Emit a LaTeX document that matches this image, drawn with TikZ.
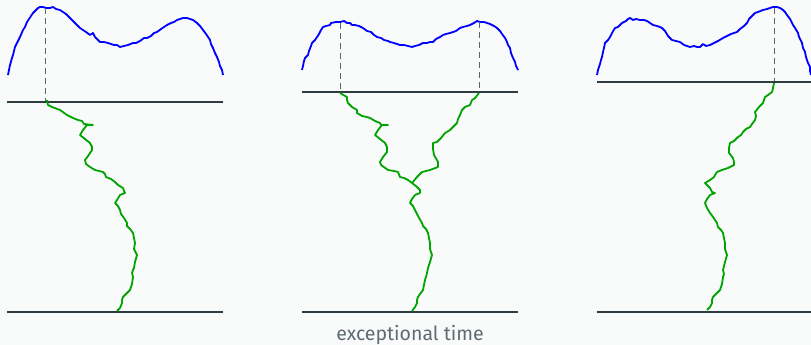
\documentclass[tikz,border=0pt]{standalone}
\usepackage{fontspec}
\setmainfont{Fira Sans}
\definecolor{bg}{HTML}{F9FAFA}
\definecolor{axis}{HTML}{2E3B40}
\definecolor{walk}{HTML}{00A400}
\definecolor{lbl}{HTML}{5E6C72}
\definecolor{guide}{HTML}{5A6569}
\tikzset{
  axisline/.style={draw=axis, line width=2pt},
  density/.style={draw=blue, line width=1.8pt, line join=round},
  path/.style={draw=walk, line width=1.8pt, line join=round},
  guideline/.style={draw=guide, line width=0.9pt, dash pattern=on 6pt off 4pt},
}
\begin{document}
\begin{tikzpicture}[x=1pt,y=-1pt]
\fill[bg] (0,0) rectangle (811,345);
\useasboundingbox (0,0) rectangle (811,345);
% ---------- panel 1 ----------
\draw[density] (8,75) -- (9,70) -- (10,65) -- (12,58) -- (13,55) -- (15,47) -- (17,43) -- (20,37) -- (23,30) -- (25,27) -- (27,22) -- (29,19) -- (31,16) -- (33,13) -- (36,10) -- (38,8) -- (40,7) -- (43,7) -- (46,8) -- (50,8) -- (53,7) -- (56,9) -- (60,10) -- (63,12) -- (66,14) -- (70,18) -- (73,21) -- (77,25) -- (80,28) -- (83,30) -- (86,32) -- (90,35) -- (93,33) -- (95,37) -- (98,40) -- (100,42) -- (104,42) -- (108,43) -- (111,44) -- (114,45) -- (117,45) -- (120,47) -- (124,46) -- (128,45) -- (133,43) -- (136,43) -- (140,41) -- (144,38) -- (147,38) -- (151,36) -- (154,33) -- (157,32) -- (161,29) -- (164,27) -- (167,25) -- (171,23) -- (174,22) -- (177,20) -- (180,19) -- (183,18) -- (187,18) -- (190,19) -- (193,20) -- (197,23) -- (200,26) -- (203,30) -- (206,34) -- (208,37) -- (210,40) -- (211,44) -- (213,48) -- (215,53) -- (217,57) -- (219,62) -- (220,66) -- (222,70) -- (223,75);
\draw[guideline] (45,8) -- (45,102);
\draw[axisline] (7,102) -- (223,102);
\draw[axisline] (7,312) -- (223,312);
\draw[path] (47,100) -- (48,105) -- (52,107) -- (60,110) -- (67,115) -- (73,118) -- (78,120) -- (82,121) -- (84,124) -- (93,125) -- (87,125) -- (83,130) -- (80,135) -- (85,139) -- (90,143) -- (92,147) -- (92,150) -- (88,156) -- (85,160) -- (86,164) -- (90,167) -- (95,170) -- (103,172) -- (105,174) -- (106,177) -- (111,179) -- (115,182) -- (118,185) -- (123,188) -- (124,191) -- (125,193) -- (120,195) -- (117,200) -- (115,203) -- (118,206) -- (120,210) -- (121,214) -- (124,218) -- (127,223) -- (127,226) -- (130,229) -- (133,233) -- (134,238) -- (135,243) -- (134,249) -- (137,255) -- (135,262) -- (134,268) -- (133,270) -- (132,273) -- (133,277) -- (132,284) -- (130,290) -- (126,294) -- (123,297) -- (122,300) -- (122,303) -- (120,308) -- (117,311);
% ---------- panel 2 ----------
\draw[density] (302,70) -- (303,66) -- (304,61) -- (305,58) -- (308,55) -- (309,51) -- (311,46) -- (312,43) -- (315,40) -- (317,37) -- (319,34) -- (321,30) -- (323,27) -- (326,26) -- (330,25) -- (331,23) -- (336,22) -- (340,22) -- (344,21) -- (347,23) -- (350,23) -- (352,25) -- (355,25) -- (359,26) -- (363,28) -- (367,31) -- (371,32) -- (374,35) -- (377,37) -- (381,38) -- (384,40) -- (388,41) -- (390,42) -- (394,43) -- (397,44) -- (400,45) -- (404,45) -- (408,46) -- (412,47) -- (415,46) -- (419,45) -- (423,43) -- (427,43) -- (430,42) -- (433,42) -- (436,39) -- (440,37) -- (443,35) -- (446,34) -- (450,33) -- (453,32) -- (456,31) -- (460,28) -- (463,27) -- (467,26) -- (470,25) -- (474,23) -- (477,21) -- (480,22) -- (484,22) -- (487,23) -- (490,24) -- (494,26) -- (497,28) -- (500,31) -- (502,34) -- (505,38) -- (507,42) -- (508,45) -- (510,48) -- (511,53) -- (513,58) -- (515,62) -- (516,66) -- (518,70);
\draw[guideline] (340,23) -- (340,92);
\draw[guideline] (479,22) -- (479,92);
\draw[axisline] (302,92) -- (518,92);
\draw[axisline] (302,312) -- (518,312);
\draw[path] (340,93) -- (345,96) -- (347,97) -- (347,100) -- (348,103) -- (352,107) -- (357,110) -- (357,113) -- (362,116) -- (367,117) -- (370,118) -- (375,121) -- (380,123) -- (381,125) -- (388,125) -- (382,125) -- (378,130) -- (375,135) -- (380,139) -- (385,143) -- (387,147) -- (387,152) -- (383,157) -- (380,162) -- (381,165) -- (388,170) -- (394,171) -- (398,172) -- (400,177) -- (404,178) -- (408,180) -- (412,183);
\draw[path] (479,93) -- (475,98) -- (472,100) -- (470,105) -- (465,107) -- (462,110) -- (460,115) -- (458,119) -- (457,123) -- (453,127) -- (450,130) -- (445,133) -- (441,138) -- (437,142) -- (433,143) -- (433,149) -- (434,155) -- (438,162) -- (438,167) -- (430,170) -- (422,172) -- (417,177) -- (412,183);
\draw[path] (412,183) -- (417,187) -- (420,190) -- (420,193) -- (415,195) -- (412,199) -- (410,203) -- (413,206) -- (415,210) -- (418,216) -- (422,223) -- (423,226) -- (426,229) -- (428,233) -- (429,238) -- (430,243) -- (430,249) -- (432,255) -- (430,262) -- (428,268) -- (427,273) -- (426,277) -- (425,280) -- (424,285) -- (423,290) -- (420,294) -- (418,297) -- (417,300) -- (417,303) -- (415,307) -- (412,311);
\node[text=lbl, font=\fontsize{19.5}{22}\selectfont, anchor=base] (caption) at (410,340) {exceptional time};
% ---------- panel 3 ----------
\draw[density] (597,75) -- (598,70) -- (600,64) -- (601,60) -- (602,57) -- (603,52) -- (604,48) -- (605,43) -- (608,40) -- (610,37) -- (612,33) -- (615,28) -- (618,27) -- (620,25) -- (622,23) -- (626,21) -- (628,19) -- (630,18) -- (633,20) -- (636,19) -- (640,20) -- (644,20) -- (647,21) -- (650,23) -- (653,25) -- (657,26) -- (660,27) -- (662,28) -- (665,31) -- (668,36) -- (672,40) -- (676,41) -- (680,42) -- (684,45) -- (687,46) -- (690,47) -- (694,46) -- (697,47) -- (700,47) -- (703,44) -- (706,46) -- (710,45) -- (714,43) -- (718,41) -- (723,38) -- (727,36) -- (731,34) -- (737,32) -- (740,29) -- (744,26) -- (747,23) -- (749,19) -- (752,16) -- (755,13) -- (758,12) -- (763,10) -- (767,9) -- (770,8) -- (773,7) -- (777,7) -- (780,8) -- (783,10) -- (785,12) -- (787,15) -- (790,19) -- (793,25) -- (795,28) -- (798,33) -- (799,37) -- (801,41) -- (802,43) -- (803,48) -- (805,52) -- (806,57) -- (807,60) -- (808,63) -- (810,67) -- (810,71) -- (811,75);
\draw[guideline] (774,8) -- (774,82);
\draw[axisline] (597,82) -- (811,82);
\draw[axisline] (597,312) -- (811,312);
\draw[path] (774,83) -- (773,88) -- (772,92) -- (768,95) -- (765,97) -- (764,100) -- (763,103) -- (759,107) -- (755,112) -- (756,116) -- (755,120) -- (752,124) -- (750,127) -- (746,129) -- (743,132) -- (741,135) -- (738,137) -- (734,141) -- (730,143) -- (729,148) -- (729,153) -- (733,158) -- (734,162) -- (734,165) -- (728,168) -- (722,170) -- (717,172) -- (715,175) -- (714,177) -- (710,180) -- (705,183) -- (708,186) -- (710,188) -- (712,192) -- (715,193) -- (710,195) -- (707,199) -- (705,203) -- (707,208) -- (710,213) -- (713,217) -- (717,223) -- (718,227) -- (721,230) -- (723,233) -- (724,238) -- (725,243) -- (725,249) -- (727,255) -- (725,262) -- (723,270) -- (724,274) -- (723,277) -- (722,284) -- (720,290) -- (716,294) -- (713,297) -- (712,300) -- (712,303) -- (710,307) -- (707,310);
\end{tikzpicture}
\end{document}
